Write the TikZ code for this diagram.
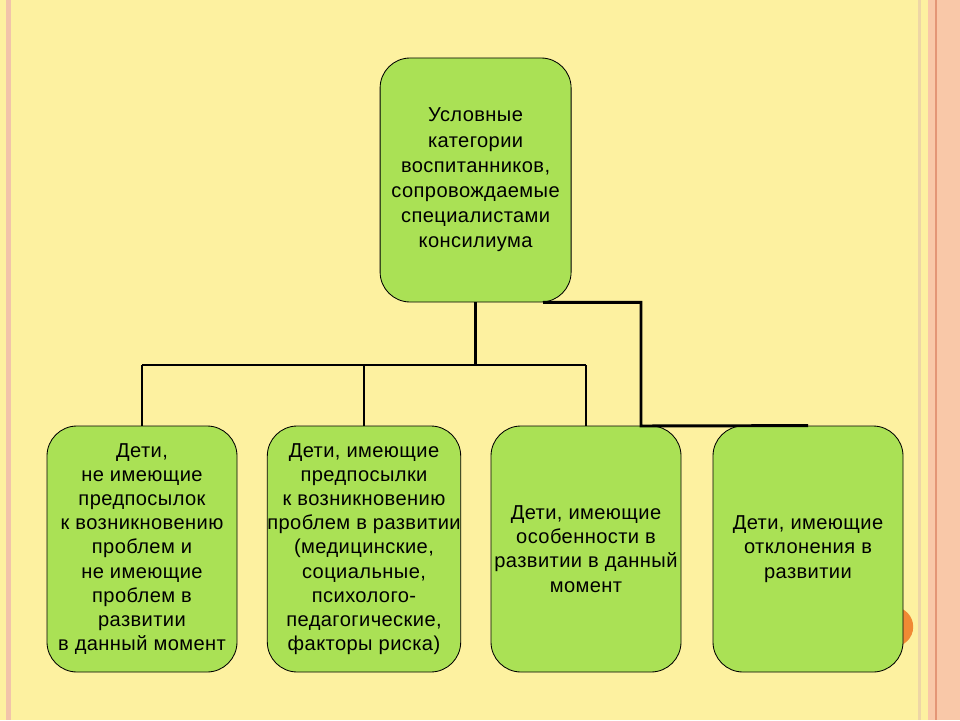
\documentclass[tikz,border=0pt]{standalone}
\usepackage{fontspec}
\setmainfont[LetterSpace=2]{Liberation Sans}
\usetikzlibrary{calc,positioning}
\definecolor{paper}{RGB}{253,241,160}
\definecolor{leaf}{RGB}{170,225,85}
\definecolor{salmon}{RGB}{249,200,168}
\definecolor{rose}{RGB}{242,196,170}
\definecolor{tanline}{RGB}{238,214,166}
\definecolor{rust}{RGB}{228,150,118}
\definecolor{dot}{RGB}{240,138,52}

\begin{document}
\begin{tikzpicture}[line join=miter,
  box/.style={draw=black,line width=0.6pt,fill=leaf,rounded corners=0.75cm,
    minimum width=4.75cm,minimum height=6.15cm,inner sep=0pt,align=center,
    font=\fontsize{14.3}{17.2}\selectfont},
  link/.style={line width=2.1pt}]
  \fill[paper] (0,0) rectangle (24,18);
  \fill[rose] (0.14,0) rectangle (0.28,18);
  \fill[tanline] (22.95,0) rectangle (23.03,18);
  \fill[salmon] (23.2,0) rectangle (24,18);
  \fill[rust] (23.37,0) rectangle (23.42,18);
  \fill[dot] (22.33,2.33) circle (0.5);
  \useasboundingbox (0,0) rectangle (24,18);

  \node[box,minimum width=4.775cm,minimum height=6.1cm,font=\fontsize{14.3}{17.9}\selectfont] (top) at (11.89,13.5)
    {Условные\\категории\\воспитанников,\\сопровождаемые\\специалистами\\консилиума};
  \node[box] (kid1) at (3.55,4.275)
    {Дети,\\не имеющие\\предпосылок\\к возникновению\\проблем и\\не имеющие\\проблем в\\развитии\\в данный момент};
  \node[box] (kid2) at (9.1,4.275)
    {Дети, имеющие\\предпосылки\\к возникновению\\проблем в развитии\\(медицинские,\\социальные,\\психолого-\\педагогические,\\факторы риска)};
  \node[box] (kid3) at (14.65,4.275)
    {Дети, имеющие\\особенности в\\развитии в данный\\момент};
  \node[box] (kid4) at (20.2,4.275)
    {Дети, имеющие\\отклонения в\\развитии};

  \coordinate (bus) at (0,8.875);
  \coordinate (bend) at (16.025,7.35);
  \coordinate (tap) at ($(top.south)+(1.69,0)$);
  \draw[link] (top.south) -- (top.south |- bus);
  \draw[link] (kid1.north |- bus) -- (kid3.north |- bus);
  \foreach \k in {kid1,kid2,kid3}
    \draw[link] (\k.north |- bus) -- (\k.north);
  \draw[link] (tap) -| (bend) -- (kid4.north);
\end{tikzpicture}
\end{document}
